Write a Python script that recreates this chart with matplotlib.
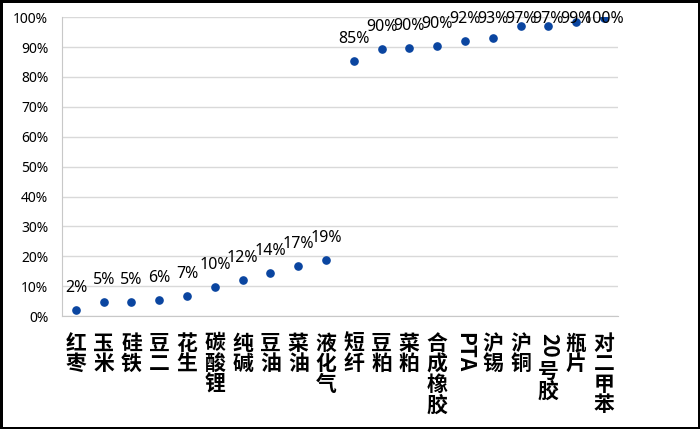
import matplotlib
matplotlib.use('Agg')
import matplotlib.pyplot as plt
from matplotlib.ticker import PercentFormatter

plt.rcParams['font.family'] = ['Noto Sans', 'Noto Sans CJK SC', 'DejaVu Sans']

# commodities, sorted by percentile
names = ['红枣', '玉米', '硅铁', '豆二', '花生', '碳酸锂', '纯碱', '豆油', '菜油', '液化气',
         '短纤', '豆粕', '菜粕', '合成橡胶', 'PTA', '沪锡', '沪铜', '20号胶', '瓶片', '对二甲苯']
values = [0.021, 0.047, 0.049, 0.055, 0.068, 0.097, 0.121, 0.143, 0.168, 0.188,
          0.852, 0.894, 0.897, 0.902, 0.920, 0.931, 0.969, 0.969, 0.985, 0.996]
labels = ['2%', '5%', '5%', '6%', '7%', '10%', '12%', '14%', '17%', '19%',
          '85%', '90%', '90%', '90%', '92%', '93%', '97%', '97%', '99%', '100%']
yticks = [0, 0.1, 0.2, 0.3, 0.4, 0.5, 0.6, 0.7, 0.8, 0.9, 1.0]

fig = plt.figure(figsize=(7, 4.29), dpi=100)
fig.patch.set_edgecolor('black')
fig.patch.set_linewidth(2.5)
ax = fig.add_axes([0.0886, 0.263, 0.794, 0.697])
ax_h_px = 0.697 * 429

x = list(range(len(names)))
ax.plot(x, values, 'o', color='#0a45a0', markersize=5.2, zorder=3)
# labels sit above the dot, but get pushed down to stay inside the chart (like excel)
for i, (v, lab) in enumerate(zip(values, labels)):
    dot_px = (1 - v) * ax_h_px
    base_px = max(dot_px - 18, 6)
    ax.annotate(lab, (i, v), xytext=(0, (dot_px - base_px) * 0.72), textcoords='offset points',
                ha='center', va='baseline', fontsize=11.5, color='black')

ax.set_xlim(-0.5, len(names) - 0.5)
ax.set_ylim(0, 1.0)
ax.set_yticks(yticks)
ax.yaxis.set_major_formatter(PercentFormatter(1.0, decimals=0))
ax.tick_params(axis='y', length=0, labelsize=10, pad=10)
ax.set_xticks([])
ax.grid(axis='y', color='#d9d9d9', linewidth=1)
ax.set_axisbelow(True)
for s in ['top', 'right']:
    ax.spines[s].set_visible(False)
ax.spines['left'].set_color('#c8c8c8')
ax.spines['bottom'].set_color('#c8c8c8')

# vertical category labels: one CJK char per line, latin runs rotated
fs = 15
step = 14.8
for i, name in enumerate(names):
    tokens = []
    buf = ''
    for ch in name:
        if ch.isascii():
            buf += ch
        else:
            if buf:
                tokens.append(buf)
                buf = ''
            tokens.append(ch)
    if buf:
        tokens.append(buf)
    off = -12
    for tok in tokens:
        if tok.isascii():
            h = 9.3 * len(tok)
            ax.annotate(tok, (i, 0), xycoords=('data', 'axes fraction'),
                        xytext=(0, off - h / 2), textcoords='offset points',
                        ha='center', va='center', rotation=-90,
                        fontsize=fs, fontweight='bold', family=['Noto Sans CJK SC'])
            off -= h + 1.5
        else:
            ax.annotate(tok, (i, 0), xycoords=('data', 'axes fraction'),
                        xytext=(0, off - step / 2), textcoords='offset points',
                        ha='center', va='center',
                        fontsize=fs, fontweight='bold', family=['Noto Sans CJK SC'])
            off -= step

fig.savefig('out.png', dpi=100, edgecolor=fig.get_edgecolor())
